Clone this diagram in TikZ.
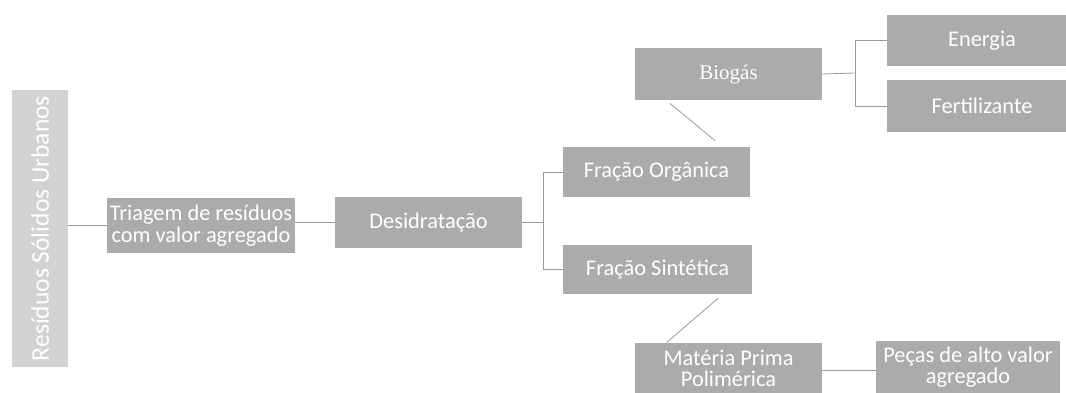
\documentclass[tikz,border=0pt]{standalone}
\usepackage{fontspec}
\setmainfont{Carlito}
\newfontfamily\serifbio{Liberation Serif}
\definecolor{boxgray}{HTML}{ABABAB}
\definecolor{lightbox}{HTML}{D2D2D2}
\definecolor{linegray}{HTML}{999999}
\begin{document}
\begin{tikzpicture}[x=1pt,y=-1pt,
  box/.style={fill=boxgray, text=white, draw=none, inner sep=0pt, align=center,
    minimum width=187pt, minimum height=51pt, font=\fontsize{22.4}{22}\selectfont},
  conn/.style={draw=linegray, line width=0.8pt}]
\useasboundingbox (0,0) rectangle (1066,392);
\clip (0,0) rectangle (1066,392);
\fill[white] (0,0) rectangle (1066,392);
% nodes
\node[box, fill=lightbox, minimum width=56pt, minimum height=277pt] (rsu) at (40,228.5)
  {\rotatebox{90}{\fontsize{25.5}{26}\selectfont Resíduos Sólidos Urbanos}};
\node[box, minimum width=188pt, minimum height=55pt] (tri) at (201,225.5) {Triagem de resíduos\\com valor agregado};
\node[box] (des) at (428.5,222.5) {Desidratação};
\node[box, minimum height=50pt] (org) at (656.5,172) {Fração Orgânica};
\node[box, minimum width=189pt, minimum height=49pt] (sin) at (657.5,269.5) {Fração Sintética};
\node[box, minimum height=52pt] (bio) at (728.5,74) {\serifbio\fontsize{21}{22}\selectfont Biogás};
\node[box, minimum width=190pt] (ene) at (982,40.5) {Energia};
\node[box, minimum width=190pt, minimum height=52pt] (fer) at (982,106) {Fertilizante};
\node[box, minimum height=52pt, font=\fontsize{22.4}{21.5}\selectfont] (mat) at (728.5,368.5) {Matéria Prima\\Polimérica};
\node[box, minimum width=184pt, minimum height=52pt, font=\fontsize{22.4}{21.5}\selectfont] (pec) at (968,367) {Peças de alto valor\\agregado};
% junction points
\coordinate (j1) at (543,222.5);
\coordinate (j2) at (855,73);
% connectors
\draw[conn] (tri.west) -- (tri.west -| rsu.east);
\draw[conn] (des.west) -- (des.west -| tri.east);
\draw[conn] (des.east) -- (j1);
\draw[conn] (j1) |- (org.west);
\draw[conn] (j1) |- (sin.west);
\draw[conn] (bio.east) -- (j2);
\draw[conn] (j2) |- (ene.west);
\draw[conn] (j2) |- (fer.west);
\draw[conn] ([xshift=35pt,yshift=-3pt]bio.south west) -- ([xshift=-35pt,yshift=6pt]org.north east);
\draw[conn] ([xshift=-34pt,yshift=-4pt]sin.south east) -- ([xshift=32pt,yshift=0pt]mat.north west);
\draw[conn] ([yshift=-2pt]mat.east) -- ([yshift=-2pt]mat.east -| pec.west);
\end{tikzpicture}
\end{document}
